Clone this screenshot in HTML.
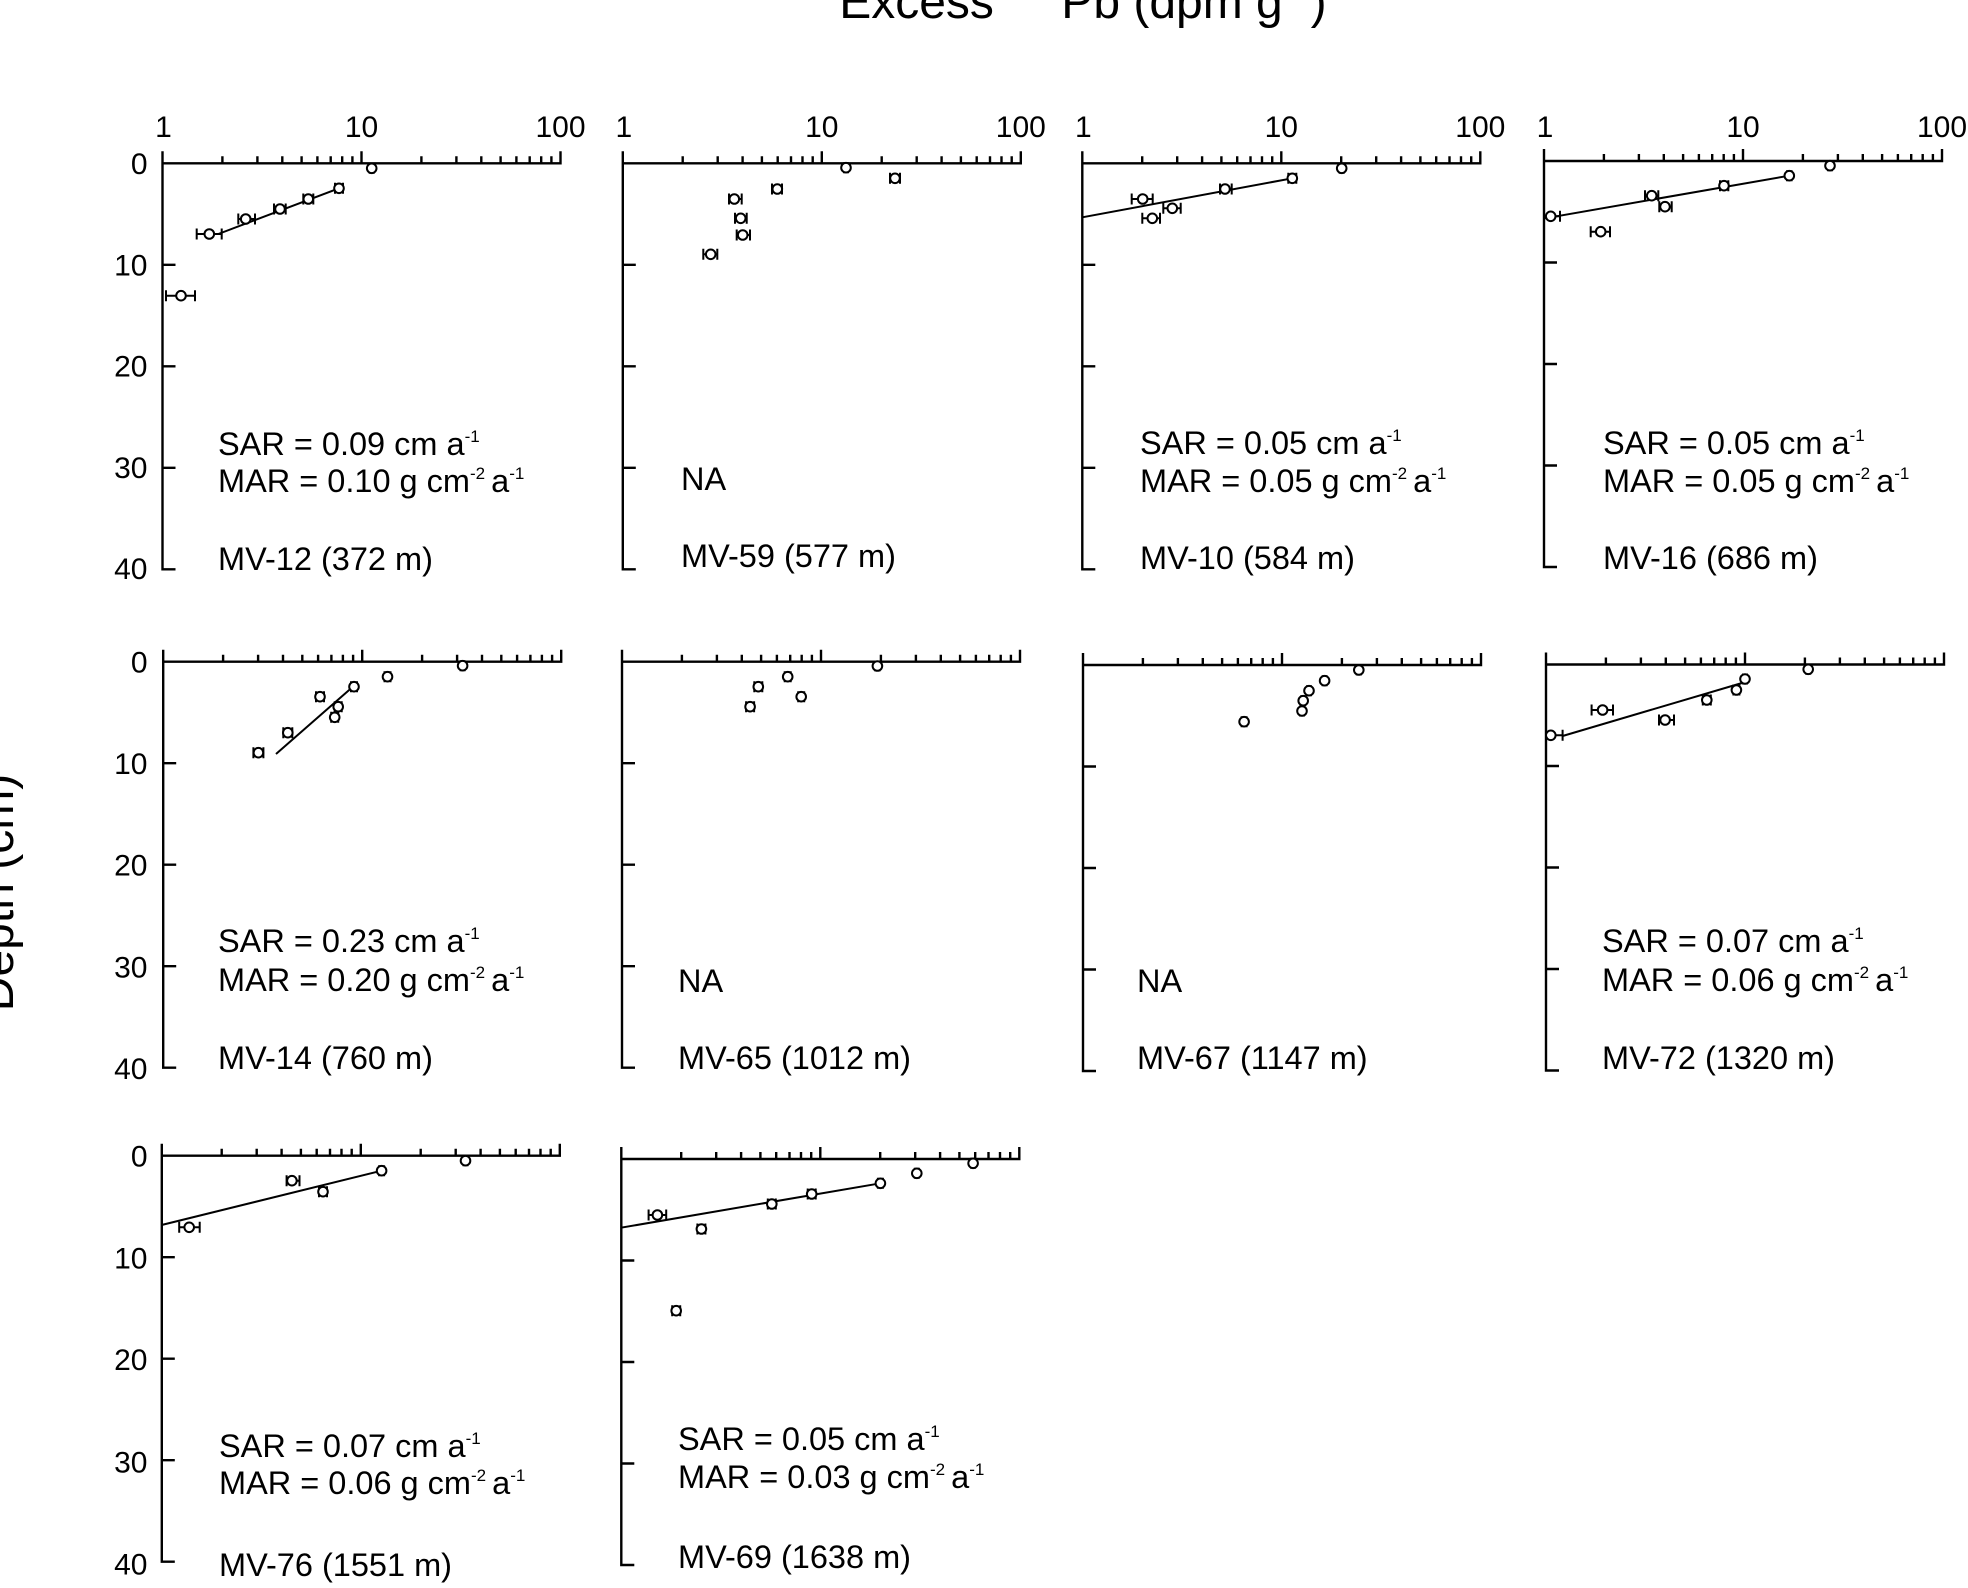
<!DOCTYPE html>
<html><head><meta charset="utf-8"><style>
html,body{margin:0;padding:0;background:#fff;}
svg{display:block;}
text{font-family:"Liberation Sans",Arial,sans-serif;fill:#000;}
</style></head><body>
<svg width="1968" height="1588" viewBox="0 0 1968 1588" xmlns="http://www.w3.org/2000/svg">
<rect width="1968" height="1588" fill="#fff"/>

<!-- Title -->
<text y="18" font-size="48"><tspan x="839.2">Excess</tspan><tspan x="1004" y="-4" font-size="30">210</tspan><tspan x="1061.3" y="18">Pb (dpm g</tspan><tspan x="1284" y="-4" font-size="30">-1</tspan><tspan x="1310.6" y="18">)</tspan></text>

<!-- Y label -->
<text transform="translate(13,892.5) rotate(-90)" text-anchor="middle" font-size="48">Depth (cm)</text>

<!-- Axes -->
<g fill="none" stroke="#000" stroke-width="2.4">
<path d="M162.5,151.3v418h13m-13,-101.5h13m-13,-101.5h13m-13,-101.5h13m-13,-101.5h398v-12m-398,12m59.9,0v-7m35,7v-7m24.9,7v-7m19.3,7v-7m15.8,7v-7m13.3,7v-7m11.5,7v-7m10.2,7v-7m9.1,7v-12m59.9,12v-7m35,7v-7m24.9,7v-7m19.3,7v-7m15.8,7v-7m13.3,7v-7m11.5,7v-7m10.2,7v-7"/>
<path d="M622.8,151.3v418h13m-13,-101.5h13m-13,-101.5h13m-13,-101.5h13m-13,-101.5h398v-12m-398,12m59.9,0v-7m35,7v-7m24.9,7v-7m19.3,7v-7m15.8,7v-7m13.3,7v-7m11.5,7v-7m10.2,7v-7m9.1,7v-12m59.9,12v-7m35,7v-7m24.9,7v-7m19.3,7v-7m15.8,7v-7m13.3,7v-7m11.5,7v-7m10.2,7v-7"/>
<path d="M1082.3,151.3v418h13m-13,-101.5h13m-13,-101.5h13m-13,-101.5h13m-13,-101.5h398v-12m-398,12m59.9,0v-7m35,7v-7m24.9,7v-7m19.3,7v-7m15.8,7v-7m13.3,7v-7m11.5,7v-7m10.2,7v-7m9.1,7v-12m59.9,12v-7m35,7v-7m24.9,7v-7m19.3,7v-7m15.8,7v-7m13.3,7v-7m11.5,7v-7m10.2,7v-7"/>
<path d="M1544,149v418h13m-13,-101.5h13m-13,-101.5h13m-13,-101.5h13m-13,-101.5h398v-12m-398,12m59.9,0v-7m35,7v-7m24.9,7v-7m19.3,7v-7m15.8,7v-7m13.3,7v-7m11.5,7v-7m10.2,7v-7m9.1,7v-12m59.9,12v-7m35,7v-7m24.9,7v-7m19.3,7v-7m15.8,7v-7m13.3,7v-7m11.5,7v-7m10.2,7v-7"/>
<path d="M163.2,649.7v418h13m-13,-101.5h13m-13,-101.5h13m-13,-101.5h13m-13,-101.5h398v-12m-398,12m59.9,0v-7m35,7v-7m24.9,7v-7m19.3,7v-7m15.8,7v-7m13.3,7v-7m11.5,7v-7m10.2,7v-7m9.1,7v-12m59.9,12v-7m35,7v-7m24.9,7v-7m19.3,7v-7m15.8,7v-7m13.3,7v-7m11.5,7v-7m10.2,7v-7"/>
<path d="M622,649.7v418h13m-13,-101.5h13m-13,-101.5h13m-13,-101.5h13m-13,-101.5h398v-12m-398,12m59.9,0v-7m35,7v-7m24.9,7v-7m19.3,7v-7m15.8,7v-7m13.3,7v-7m11.5,7v-7m10.2,7v-7m9.1,7v-12m59.9,12v-7m35,7v-7m24.9,7v-7m19.3,7v-7m15.8,7v-7m13.3,7v-7m11.5,7v-7m10.2,7v-7"/>
<path d="M1083,653v418h13m-13,-101.5h13m-13,-101.5h13m-13,-101.5h13m-13,-101.5h398v-12m-398,12m59.9,0v-7m35,7v-7m24.9,7v-7m19.3,7v-7m15.8,7v-7m13.3,7v-7m11.5,7v-7m10.2,7v-7m9.1,7v-12m59.9,12v-7m35,7v-7m24.9,7v-7m19.3,7v-7m15.8,7v-7m13.3,7v-7m11.5,7v-7m10.2,7v-7"/>
<path d="M1546,652.5v418h13m-13,-101.5h13m-13,-101.5h13m-13,-101.5h13m-13,-101.5h398v-12m-398,12m59.9,0v-7m35,7v-7m24.9,7v-7m19.3,7v-7m15.8,7v-7m13.3,7v-7m11.5,7v-7m10.2,7v-7m9.1,7v-12m59.9,12v-7m35,7v-7m24.9,7v-7m19.3,7v-7m15.8,7v-7m13.3,7v-7m11.5,7v-7m10.2,7v-7"/>
<path d="M161.8,1143.7v418h13m-13,-101.5h13m-13,-101.5h13m-13,-101.5h13m-13,-101.5h398v-12m-398,12m59.9,0v-7m35,7v-7m24.9,7v-7m19.3,7v-7m15.8,7v-7m13.3,7v-7m11.5,7v-7m10.2,7v-7m9.1,7v-12m59.9,12v-7m35,7v-7m24.9,7v-7m19.3,7v-7m15.8,7v-7m13.3,7v-7m11.5,7v-7m10.2,7v-7"/>
<path d="M621.3,1147v418h13m-13,-101.5h13m-13,-101.5h13m-13,-101.5h13m-13,-101.5h398v-12m-398,12m59.9,0v-7m35,7v-7m24.9,7v-7m19.3,7v-7m15.8,7v-7m13.3,7v-7m11.5,7v-7m10.2,7v-7m9.1,7v-12m59.9,12v-7m35,7v-7m24.9,7v-7m19.3,7v-7m15.8,7v-7m13.3,7v-7m11.5,7v-7m10.2,7v-7"/>
</g>

<!-- X tick labels (row 1) -->
<g font-size="30" text-anchor="middle">
<text x="163.5" y="137">1</text><text x="361.5" y="137">10</text><text x="560.5" y="137">100</text>
<text x="623.8" y="137">1</text><text x="821.8" y="137">10</text><text x="1020.8" y="137">100</text>
<text x="1083.3" y="137">1</text><text x="1281.3" y="137">10</text><text x="1480.3" y="137">100</text>
<text x="1545" y="137">1</text><text x="1743" y="137">10</text><text x="1942" y="137">100</text>
</g>

<!-- Y tick labels -->
<g font-size="30" text-anchor="end">
<text x="147.5" y="174">0</text><text x="147.5" y="275.5">10</text><text x="147.5" y="376.5">20</text><text x="147.5" y="478">30</text><text x="147.5" y="579">40</text>
<text x="147.5" y="672.4">0</text><text x="147.5" y="774">10</text><text x="147.5" y="875.7">20</text><text x="147.5" y="977.4">30</text><text x="147.5" y="1079">40</text>
<text x="147.5" y="1166.4">0</text><text x="147.5" y="1268.4">10</text><text x="147.5" y="1370">20</text><text x="147.5" y="1472.4">30</text><text x="147.5" y="1574.7">40</text>
</g>

<!-- Fit lines -->
<g fill="none" stroke="#000" stroke-width="2">
<path d="M218.3,234L339,188.3"/>
<path d="M1082.3,217.3L1292.3,178.3"/>
<path d="M1545,218.3L1789.3,175.7"/>
<path d="M276,754L352.3,687.3"/>
<path d="M1562.6,736L1742,683"/>
<path d="M161.6,1225L381.6,1170.7"/>
<path d="M621,1227.7L880.4,1183.3"/>
</g>

<!-- Error bars -->
<g fill="none" stroke="#000" stroke-width="2">
<path d="M369.7,168.3H373.7M369.7,162.8v11M373.7,162.8v11M335,188.3H343M335,182.8v11M343,182.8v11M303.3,199H313.3M303.3,193.5v11M313.3,193.5v11M274,209H285.7M274,203.5v11M285.7,203.5v11M238.3,219H255M238.3,213.5v11M255,213.5v11M196.7,234H221.7M196.7,228.5v11M221.7,228.5v11M166,295.7H195M166,290.2v11M195,290.2v11"/>
<path d="M844,167.7H848M844,162.2v11M848,162.2v11M890,178.3H900M890,172.8v11M900,172.8v11M772,189H782M772,183.5v11M782,183.5v11M729,199H741.7M729,193.5v11M741.7,193.5v11M735,218.3H746.7M735,212.8v11M746.7,212.8v11M736.7,235H750M736.7,229.5v11M750,229.5v11M703.3,254.3H717.3M703.3,248.8v11M717.3,248.8v11"/>
<path d="M1339.7,168.3H1343.7M1339.7,162.8v11M1343.7,162.8v11M1288.3,178.3H1296.3M1288.3,172.8v11M1296.3,172.8v11M1220,189H1231.7M1220,183.5v11M1231.7,183.5v11M1131.7,199H1152.7M1131.7,193.5v11M1152.7,193.5v11M1163.3,208.3H1180.7M1163.3,202.8v11M1180.7,202.8v11M1142.3,218.3H1160M1142.3,212.8v11M1160,212.8v11"/>
<path d="M1828,165.7H1832M1828,160.2v11M1832,160.2v11M1787,175.7H1791.6M1787,170.2v11M1791.6,170.2v11M1720,185.7H1728.3M1720,180.2v11M1728.3,180.2v11M1645,195.7H1658.3M1645,190.2v11M1658.3,190.2v11M1659.3,206.7H1671.7M1659.3,201.2v11M1671.7,201.2v11M1545,216.3H1560M1560,210.8v11M1590.7,231.7H1610M1590.7,226.2v11M1610,226.2v11"/>
<path d="M460.6,665.7H464.6M460.6,660.2v11M464.6,660.2v11M384.5,676.7H390.5M384.5,671.2v11M390.5,671.2v11M351,686.7H357M351,681.2v11M357,681.2v11M316,696.7H324M316,691.2v11M324,691.2v11M334.7,706.7H341.7M334.7,701.2v11M341.7,701.2v11M331.2,717.3H338.2M331.2,711.8v11M338.2,711.8v11M283.3,732.7H292.3M283.3,727.2v11M292.3,727.2v11M253.4,752.7H263.4M253.4,747.2v11M263.4,747.2v11"/>
<path d="M875.4,666H879.4M875.4,660.5v11M879.4,660.5v11M784.7,676.7H790.7M784.7,671.2v11M790.7,671.2v11M754.3,686.7H762.3M754.3,681.2v11M762.3,681.2v11M798.2,696.7H804.2M798.2,691.2v11M804.2,691.2v11M746.1,706.7H754.1M746.1,701.2v11M754.1,701.2v11"/>
<path d="M1356.8,670H1360.8M1356.8,664.5v11M1360.8,664.5v11M1322.6,680.7H1326.6M1322.6,675.2v11M1326.6,675.2v11M1307,690.7H1311M1307,685.2v11M1311,685.2v11M1301.2,700.7H1305.2M1301.2,695.2v11M1305.2,695.2v11M1300,711H1304M1300,705.5v11M1304,705.5v11M1241.6,721.7H1246.6M1241.6,716.2v11M1246.6,716.2v11"/>
<path d="M1806.2,669.3H1810.2M1806.2,663.8v11M1810.2,663.8v11M1743,679H1747M1743,673.5v11M1747,673.5v11M1733.4,690H1739.4M1733.4,684.5v11M1739.4,684.5v11M1702.8,700H1710.8M1702.8,694.5v11M1710.8,694.5v11M1659,720H1674M1659,714.5v11M1674,714.5v11M1591.6,710H1613M1591.6,704.5v11M1613,704.5v11M1546,735.3H1562.6M1562.6,729.8v11"/>
<path d="M463.5,1160.7H467.5M463.5,1155.2v11M467.5,1155.2v11M379.1,1170.7H384.1M379.1,1165.2v11M384.1,1165.2v11M286.6,1180.7H299.5M286.6,1175.2v11M299.5,1175.2v11M319,1191.7H327M319,1186.2v11M327,1186.2v11M179.2,1227.3H199.7M179.2,1221.8v11M199.7,1221.8v11"/>
<path d="M971.1,1163.3H975.1M971.1,1157.8v11M975.1,1157.8v11M914.8,1173.3H918.8M914.8,1167.8v11M918.8,1167.8v11M877.9,1183.3H882.9M877.9,1177.8v11M882.9,1177.8v11M807.7,1194H815.7M807.7,1188.5v11M815.7,1188.5v11M767.8,1204H775.8M767.8,1198.5v11M775.8,1198.5v11M648.6,1215H666.2M648.6,1209.5v11M666.2,1209.5v11M697.4,1229H705.4M697.4,1223.5v11M705.4,1223.5v11M672.2,1310.7H680.2M672.2,1305.2v11M680.2,1305.2v11"/>
</g>

<!-- Markers -->
<g fill="#fff" stroke="#000" stroke-width="2">
<circle cx="371.7" cy="168.3" r="4.8"/><circle cx="339" cy="188.3" r="4.8"/><circle cx="308.3" cy="199" r="4.8"/><circle cx="280" cy="209" r="4.8"/><circle cx="245.7" cy="219" r="4.8"/><circle cx="209.3" cy="234" r="4.8"/><circle cx="181" cy="295.7" r="4.8"/>
<circle cx="846" cy="167.7" r="4.8"/><circle cx="895" cy="178.3" r="4.8"/><circle cx="777.3" cy="189" r="4.8"/><circle cx="734.3" cy="199" r="4.8"/><circle cx="740.7" cy="218.3" r="4.8"/><circle cx="742.7" cy="235" r="4.8"/><circle cx="710.7" cy="254.3" r="4.8"/>
<circle cx="1341.7" cy="168.3" r="4.8"/><circle cx="1292.3" cy="178.3" r="4.8"/><circle cx="1225" cy="189" r="4.8"/><circle cx="1142.7" cy="199" r="4.8"/><circle cx="1172.3" cy="208.3" r="4.8"/><circle cx="1152.3" cy="218.3" r="4.8"/>
<circle cx="1830" cy="165.7" r="4.8"/><circle cx="1789.3" cy="175.7" r="4.8"/><circle cx="1724" cy="185.7" r="4.8"/><circle cx="1651.7" cy="195.7" r="4.8"/><circle cx="1665" cy="206.7" r="4.8"/><circle cx="1550.7" cy="216.3" r="4.8"/><circle cx="1600.7" cy="231.7" r="4.8"/>
<circle cx="462.6" cy="665.7" r="4.8"/><circle cx="387.5" cy="676.7" r="4.8"/><circle cx="354" cy="686.7" r="4.8"/><circle cx="320" cy="696.7" r="4.8"/><circle cx="338.2" cy="706.7" r="4.8"/><circle cx="334.7" cy="717.3" r="4.8"/><circle cx="287.8" cy="732.7" r="4.8"/><circle cx="258.4" cy="752.7" r="4.8"/>
<circle cx="877.4" cy="666" r="4.8"/><circle cx="787.7" cy="676.7" r="4.8"/><circle cx="758.3" cy="686.7" r="4.8"/><circle cx="801.2" cy="696.7" r="4.8"/><circle cx="750.1" cy="706.7" r="4.8"/>
<circle cx="1358.8" cy="670" r="4.8"/><circle cx="1324.6" cy="680.7" r="4.8"/><circle cx="1309" cy="690.7" r="4.8"/><circle cx="1303.2" cy="700.7" r="4.8"/><circle cx="1302" cy="711" r="4.8"/><circle cx="1244.1" cy="721.7" r="4.8"/>
<circle cx="1808.2" cy="669.3" r="4.8"/><circle cx="1745" cy="679" r="4.8"/><circle cx="1736.4" cy="690" r="4.8"/><circle cx="1706.8" cy="700" r="4.8"/><circle cx="1665.1" cy="720" r="4.8"/><circle cx="1602.6" cy="710" r="4.8"/><circle cx="1550.8" cy="735.3" r="4.8"/>
<circle cx="465.5" cy="1160.7" r="4.8"/><circle cx="381.6" cy="1170.7" r="4.8"/><circle cx="291.9" cy="1180.7" r="4.8"/><circle cx="323" cy="1191.7" r="4.8"/><circle cx="189.2" cy="1227.3" r="4.8"/>
<circle cx="973.1" cy="1163.3" r="4.8"/><circle cx="916.8" cy="1173.3" r="4.8"/><circle cx="880.4" cy="1183.3" r="4.8"/><circle cx="811.7" cy="1194" r="4.8"/><circle cx="771.8" cy="1204" r="4.8"/><circle cx="657.4" cy="1215" r="4.8"/><circle cx="701.4" cy="1229" r="4.8"/><circle cx="676.2" cy="1310.7" r="4.8"/>
</g>

<!-- Annotations -->
<g font-size="32.5">
<!-- P1 -->
<text x="218" y="455">SAR = 0.09 cm a<tspan font-size="17" dy="-13">-1</tspan></text>
<text x="218" y="492">MAR = 0.10 g cm<tspan font-size="17" dy="-13">-2</tspan><tspan dy="13" dx="-3"> a</tspan><tspan font-size="17" dy="-13">-1</tspan></text>
<text x="218" y="570">MV-12 (372 m)</text>
<!-- P2 -->
<text x="681" y="490">NA</text>
<text x="681" y="567">MV-59 (577 m)</text>
<!-- P3 -->
<text x="1140" y="454">SAR = 0.05 cm a<tspan font-size="17" dy="-13">-1</tspan></text>
<text x="1140" y="492">MAR = 0.05 g cm<tspan font-size="17" dy="-13">-2</tspan><tspan dy="13" dx="-3"> a</tspan><tspan font-size="17" dy="-13">-1</tspan></text>
<text x="1140" y="569">MV-10 (584 m)</text>
<!-- P4 -->
<text x="1603" y="454">SAR = 0.05 cm a<tspan font-size="17" dy="-13">-1</tspan></text>
<text x="1603" y="492">MAR = 0.05 g cm<tspan font-size="17" dy="-13">-2</tspan><tspan dy="13" dx="-3"> a</tspan><tspan font-size="17" dy="-13">-1</tspan></text>
<text x="1603" y="569">MV-16 (686 m)</text>
<!-- P5 -->
<text x="218" y="952">SAR = 0.23 cm a<tspan font-size="17" dy="-13">-1</tspan></text>
<text x="218" y="991">MAR = 0.20 g cm<tspan font-size="17" dy="-13">-2</tspan><tspan dy="13" dx="-3"> a</tspan><tspan font-size="17" dy="-13">-1</tspan></text>
<text x="218" y="1069">MV-14 (760 m)</text>
<!-- P6 -->
<text x="678" y="992">NA</text>
<text x="678" y="1069">MV-65 (1012 m)</text>
<!-- P7 -->
<text x="1137" y="992">NA</text>
<text x="1137" y="1069">MV-67 (1147 m)</text>
<!-- P8 -->
<text x="1602" y="952">SAR = 0.07 cm a<tspan font-size="17" dy="-13">-1</tspan></text>
<text x="1602" y="991">MAR = 0.06 g cm<tspan font-size="17" dy="-13">-2</tspan><tspan dy="13" dx="-3"> a</tspan><tspan font-size="17" dy="-13">-1</tspan></text>
<text x="1602" y="1069">MV-72 (1320 m)</text>
<!-- P9 -->
<text x="219" y="1457">SAR = 0.07 cm a<tspan font-size="17" dy="-13">-1</tspan></text>
<text x="219" y="1494">MAR = 0.06 g cm<tspan font-size="17" dy="-13">-2</tspan><tspan dy="13" dx="-3"> a</tspan><tspan font-size="17" dy="-13">-1</tspan></text>
<text x="219" y="1576">MV-76 (1551 m)</text>
<!-- P10 -->
<text x="678" y="1450">SAR = 0.05 cm a<tspan font-size="17" dy="-13">-1</tspan></text>
<text x="678" y="1488">MAR = 0.03 g cm<tspan font-size="17" dy="-13">-2</tspan><tspan dy="13" dx="-3"> a</tspan><tspan font-size="17" dy="-13">-1</tspan></text>
<text x="678" y="1568">MV-69 (1638 m)</text>
</g>
</svg>
</body></html>
